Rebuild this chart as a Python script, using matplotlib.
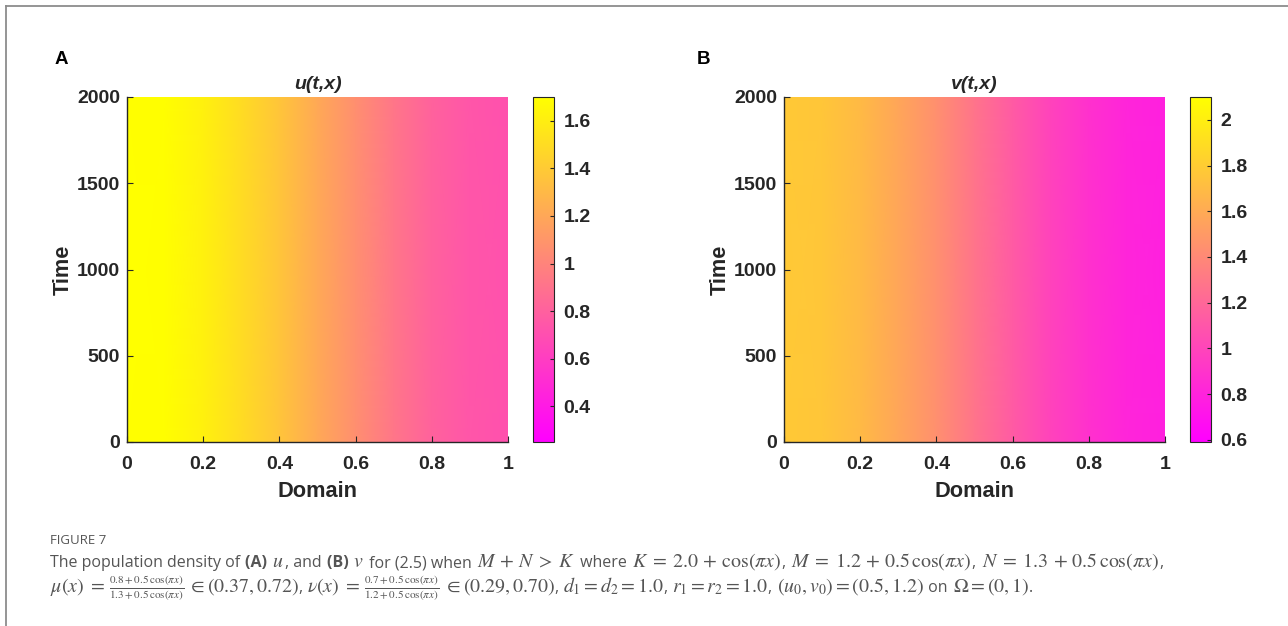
import numpy as np
import matplotlib
matplotlib.use("Agg")
import matplotlib.pyplot as plt
from matplotlib.lines import Line2D

# ── data ────────────────────────────────────────────────────────────────────
domain = [0.0, 0.1, 0.2, 0.3, 0.4, 0.5, 0.6, 0.7, 0.8, 0.9, 1.0]
time_span = [0, 2000]
u_profile = [1.71, 1.69, 1.62, 1.50, 1.37, 1.21, 1.06, 0.92, 0.81, 0.74, 0.71]
v_profile = [1.78, 1.76, 1.69, 1.57, 1.44, 1.28, 1.13, 0.99, 0.88, 0.81, 0.78]
u_clim = [0.25, 1.70]
v_clim = [0.59, 2.10]
u_cticks = [0.4, 0.6, 0.8, 1.0, 1.2, 1.4, 1.6]
v_cticks = [0.6, 0.8, 1.0, 1.2, 1.4, 1.6, 1.8, 2.0]
x_ticks = [0, 0.2, 0.4, 0.6, 0.8, 1]
t_ticks = [0, 500, 1000, 1500, 2000]

W, H = 1288, 626
fig = plt.figure(figsize=(W / 100, H / 100), dpi=100)
fig.patch.set_facecolor("white")
plt.rcParams["mathtext.fontset"] = "stix"

SANS = ["Liberation Sans", "DejaVu Sans"]
AX_COL = "#262626"


def fmt(v):
    return f"{v:g}"


def panel(left, cb_left, profile, clim, cticks, title, letter, letter_x):
    ax = fig.add_axes([left / W, 1 - 442 / H, 381 / W, 345 / H])
    X, T = np.meshgrid(domain, time_span)
    Z = np.tile(profile, (len(time_span), 1))
    mesh = ax.pcolormesh(X, T, Z, cmap="spring", shading="gouraud",
                         vmin=clim[0], vmax=clim[1])
    ax.set_xlim(0, 1)
    ax.set_ylim(0, 2000)
    ax.set_xticks(x_ticks)
    ax.set_xticklabels([fmt(v) for v in x_ticks])
    ax.set_yticks(t_ticks)
    for s in ("top", "right"):
        ax.spines[s].set_visible(False)
    for s in ("left", "bottom"):
        ax.spines[s].set_color(AX_COL)
        ax.spines[s].set_linewidth(1.0)
    ax.tick_params(direction="in", length=4, width=0.8, color=AX_COL,
                   labelsize=14, labelcolor=AX_COL)
    ax.tick_params(axis="x", pad=10)
    ax.tick_params(axis="y", pad=5)
    for lbl in ax.get_xticklabels() + ax.get_yticklabels():
        lbl.set_fontweight("bold")
        lbl.set_family(SANS)
    ax.set_xlabel("Domain", fontsize=15.7, fontweight="bold", family=SANS,
                  color=AX_COL, labelpad=6)
    ax.set_ylabel("Time", fontsize=15.7, fontweight="bold", family=SANS,
                  color=AX_COL, labelpad=2)
    ax.set_title(title, fontsize=14, fontweight="bold", style="italic",
                 family=SANS, color=AX_COL, pad=5.5)

    cax = fig.add_axes([cb_left / W, 1 - 442 / H, 21 / W, 345 / H])
    cb = fig.colorbar(mesh, cax=cax, ticks=cticks)
    cb.ax.set_yticklabels([fmt(v) for v in cticks])
    cb.outline.set_edgecolor(AX_COL)
    cb.outline.set_linewidth(0.8)
    cax.tick_params(direction="in", length=3, width=0.8, color=AX_COL,
                    labelsize=14, labelcolor=AX_COL, pad=7)
    for lbl in cax.get_yticklabels():
        lbl.set_fontweight("bold")
        lbl.set_family(SANS)

    fig.text(letter_x / W, 1 - 60 / H, letter, fontsize=13.5, fontweight="bold",
             family=SANS, ha="center", va="center", color="black")


panel(127, 533, u_profile, u_clim, u_cticks, "u(t,x)", "A", 61)
panel(784, 1190, v_profile, v_clim, v_cticks, "v(t,x)", "B", 703)

# ── frame around the figure ────────────────────────────────────────────────
fig.add_artist(Line2D([5.5 / W, 5.5 / W], [0, 1 - 6 / H], transform=fig.transFigure,
                      color="#8c8c8c", lw=1.3))
fig.add_artist(Line2D([5.5 / W, 1], [1 - 6 / H, 1 - 6 / H], transform=fig.transFigure,
                      color="#8c8c8c", lw=1.3))

# ── caption ─────────────────────────────────────────────────────────────────
CAP_COL = "#555555"
CAP_FONT = ["Open Sans", "DejaVu Sans"]
TXT_SIZE = 11.5
MATH_SIZE = 14.3
FRAC_SIZE = 11.5
renderer = fig.canvas.get_renderer()


def run_text(x_px, y_px, pieces):
    # pieces: (text, weight, size, gap after in px); set one after another
    x = x_px
    for txt, weight, size, gap in pieces:
        t = fig.text(x / W, 1 - y_px / H, txt, fontsize=size,
                     fontweight=weight, family=CAP_FONT, color=CAP_COL,
                     ha="left", va="baseline")
        bb = t.get_window_extent(renderer=renderer)
        x += bb.width + gap


fig.text(50 / W, 1 - 541 / H, "FIGURE 7", fontsize=9.5, family=CAP_FONT,
         color=CAP_COL, ha="left", va="center")

n, b = "normal", "bold"
T, M, F = TXT_SIZE, MATH_SIZE, FRAC_SIZE
line1 = [
    ("The population density of ", n, T, 1),
    ("(A) ", b, T, 1),
    (r"$u$", n, M, 1),
    (", and ", n, T, 1),
    ("(B) ", b, T, 1),
    (r"$v$", n, M, 1),
    (" for (2.5) when ", n, T, 1),
    (r"$M\,+\,N\;>\;K$", n, M, 1),
    (" where ", n, T, 1),
    (r"$K\;=\;2.0\,+\,\cos(\pi x)$", n, M, 1),
    (", ", n, T, 1),
    (r"$M\;=\;1.2\,+\,0.5\,\cos(\pi x)$", n, M, 1),
    (", ", n, T, 1),
    (r"$N\;=\;1.3\,+\,0.5\,\cos(\pi x)$", n, M, 1),
    (",", n, T, 0),
]
run_text(50, 567, line1)

line2 = [
    (r"$\mu(x)\;=$", n, M, 4),
    (r"$\frac{0.8+0.5\,\cos(\pi x)}{1.3+0.5\,\cos(\pi x)}$", n, F, 4),
    (r"$\in(0.37,0.72)$", n, M, 0),
    (", ", n, T, 0),
    (r"$\nu(x)\;=$", n, M, 4),
    (r"$\frac{0.7+0.5\,\cos(\pi x)}{1.2+0.5\,\cos(\pi x)}$", n, F, 4),
    (r"$\in(0.29,0.70)$", n, M, 0),
    (", ", n, T, 0),
    (r"$d_1=d_2=1.0$", n, M, 0),
    (", ", n, T, 0),
    (r"$r_1=r_2=1.0$", n, M, 0),
    (", ", n, T, 0),
    (r"$(u_0,v_0)=(0.5,1.2)$", n, M, 1),
    (" on ", n, T, 1),
    (r"$\Omega=(0,1)$", n, M, 0),
    (".", n, T, 0),
]
run_text(50, 592, line2)

fig.savefig("out.png", dpi=100, facecolor="white")
